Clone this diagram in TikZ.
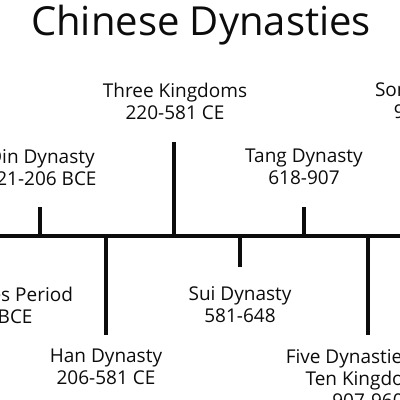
\documentclass[tikz,border=0pt]{standalone}
\usepackage{fontspec}
\setmainfont{Open Sans}
\usepackage{tikz}
\definecolor{ink}{RGB}{12,12,12}
\tikzset{
  axis/.style={line width=4pt,draw=ink},
  tick/.style={line width=3.6pt,draw=ink},
  era/.style={align=center,inner sep=0pt,text=ink,font=\fontsize{19}{22}\selectfont},
  heading/.style={inner sep=0pt,text=ink,font=\fontsize{40}{44}\selectfont}
}

\begin{document}
\begin{tikzpicture}[x=1pt,y=-1pt]
  \useasboundingbox[clip] (0,0) rectangle (400,400);
  \fill[white] (0,0) rectangle (400,400);
  \node[heading] (title) at (201,25) {Chinese Dynasties};
  % the time axis
  \coordinate (west) at (-10,236);
  \coordinate (east) at (410,236);
  \draw[axis] (west) -- (east);
  % ticks above the axis
  \coordinate (qinA) at (40,236);   \coordinate (qinB) at (40,207);
  \coordinate (threeA) at (174,236); \coordinate (threeB) at (174,142);
  \coordinate (tangA) at (304,236);  \coordinate (tangB) at (304,207);
  \draw[tick] (qinA) -- (qinB);
  \draw[tick] (threeA) -- (threeB);
  \draw[tick] (tangA) -- (tangB);
  % ticks below the axis
  \coordinate (hanA) at (106,236);  \coordinate (hanB) at (106,335);
  \coordinate (suiA) at (240,236);  \coordinate (suiB) at (240,267);
  \coordinate (fiveA) at (368,236); \coordinate (fiveB) at (368,335);
  \draw[tick] (hanA) -- (hanB);
  \draw[tick] (suiA) -- (suiB);
  \draw[tick] (fiveA) -- (fiveB);
  % labels
  \node[era] (three) at (175,101) {Three Kingdoms\\220-581 CE};
  \node[era] (song) at (435,101) {Song Dynasty\\960-1279};
  \node[era] (qin) at (41,168) {Qin Dynasty\\221-206 BCE};
  \node[era] (tang) at (304,167) {Tang Dynasty\\618-907};
  \node[era] (warring) at (-23,305) {Warring States Period\\475-221 BCE};
  \node[era] (sui) at (240,305) {Sui Dynasty\\581-648};
  \node[era] (han) at (106,367) {Han Dynasty\\206-581 CE};
  \node[era] (five) at (368,378) {Five Dynasties and\\Ten Kingdoms\\907-960};
\end{tikzpicture}
\end{document}
